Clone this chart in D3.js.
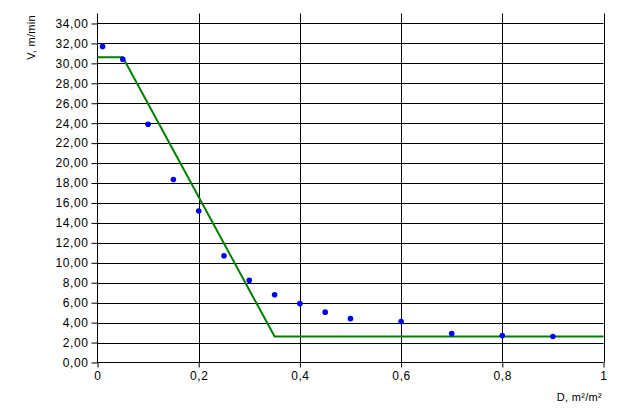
<!DOCTYPE html>
<html>
<head>
<meta charset="utf-8">
<script src="https://cdn.jsdelivr.net/npm/d3@7"></script>
<style>
  body { margin: 0; background: #fff; }
  text { font-family: "Liberation Sans", Arial, sans-serif; fill: #000; }
  .tick text { font-size: 12px; letter-spacing: 0.6px; }
  .label { font-size: 11px; letter-spacing: 0.3px; }
</style>
</head>
<body>
<div id="chart"></div>
<script>
w = 630;
h = 420;

// measured points: D (m2/m2) and V (m/min)
var pointD = [0.01, 0.05, 0.1, 0.15, 0.2, 0.25, 0.3, 0.35, 0.4, 0.45, 0.5, 0.6, 0.7, 0.8, 0.9];
var pointV = [31.7, 30.4, 23.9, 18.35, 15.2, 10.7, 8.25, 6.8, 5.9, 5.05, 4.4, 4.1, 2.9, 2.7, 2.6];

// model line
var lineD = [0, 0.05, 0.35, 1];
var lineV = [30.6, 30.6, 2.6, 2.6];

var xTicks = [0, 0.2, 0.4, 0.6, 0.8, 1];
var yTicks = d3.range(0, 35, 2);

var xScale = d3.scaleLinear().domain([0, 1]).range([97.5, 603.5]);
var yScale = d3.scaleLinear().domain([0, 35]).range([362.5, 13.5]);

var svg = d3.select("#chart").append("svg")
	.attr("width", w)
	.attr("height", h);

svg.append("rect").attr("width", w).attr("height", h).attr("fill", "#fff");

// grid
svg.append("g").selectAll("line.hgrid").data(yTicks.slice(1))
	.enter().append("line")
	.attr("x1", xScale(0)).attr("x2", xScale(1))
	.attr("y1", function(d) { return Math.round(yScale(d)) + 0.5; })
	.attr("y2", function(d) { return Math.round(yScale(d)) + 0.5; })
	.attr("stroke", "#000").attr("stroke-width", 1);

svg.append("g").selectAll("line.vgrid").data(xTicks.slice(1))
	.enter().append("line")
	.attr("x1", function(d) { return Math.round(xScale(d)) + 0.5; })
	.attr("x2", function(d) { return Math.round(xScale(d)) + 0.5; })
	.attr("y1", yScale(35)).attr("y2", yScale(0))
	.attr("stroke", "#000").attr("stroke-width", 1);

// axes
var yAxis = d3.axisLeft(yScale)
	.tickValues(yTicks)
	.tickSize(6)
	.tickPadding(3)
	.tickFormat(function(d) { return d3.format(".2f")(d).replace(".", ","); });
var yAxisG = svg.append("g")
	.attr("transform", "translate(" + xScale(0) + ",0)")
	.call(yAxis);

var xAxis = d3.axisBottom(xScale)
	.tickValues(xTicks)
	.tickSize(5)
	.tickPadding(4)
	.tickFormat(function(d) { return String(d).replace(".", ","); });
var xAxisG = svg.append("g")
	.attr("transform", "translate(0," + yScale(0) + ")")
	.call(xAxis);

svg.selectAll(".domain").attr("stroke", "#000").attr("d", null);
yAxisG.append("line").attr("x1", 0).attr("x2", 0)
	.attr("y1", yScale(35)).attr("y2", yScale(0)).attr("stroke", "#000");
xAxisG.append("line").attr("x1", xScale(0)).attr("x2", xScale(1))
	.attr("y1", 0).attr("y2", 0).attr("stroke", "#000");
svg.selectAll(".tick line").attr("stroke", "#000");
svg.selectAll(".tick text").attr("fill", "#000");

// model line
var lineData = lineD.map(function(d, i) { return [d, lineV[i]]; });
var line = d3.line()
	.x(function(d) { return xScale(d[0]); })
	.y(function(d) { return yScale(d[1]); });
svg.append("path")
	.datum(lineData)
	.attr("d", line)
	.attr("fill", "none")
	.attr("stroke", "#008000")
	.attr("stroke-width", 2);

// points
svg.selectAll(".pt").data(pointD)
	.enter().append("circle")
	.attr("class", "pt")
	.attr("cx", function(d) { return xScale(d); })
	.attr("cy", function(d, i) { return yScale(pointV[i]); })
	.attr("r", 2.8)
	.attr("fill", "#0000ff");

// labels
svg.append("text")
	.attr("class", "label")
	.attr("text-anchor", "end")
	.attr("transform", "translate(35,15) rotate(-90)")
	.text("V, m/min");

svg.append("text")
	.attr("class", "label")
	.attr("text-anchor", "end")
	.attr("x", 602)
	.attr("y", 401)
	.text("D, m²/m²");
</script>
</body>
</html>
